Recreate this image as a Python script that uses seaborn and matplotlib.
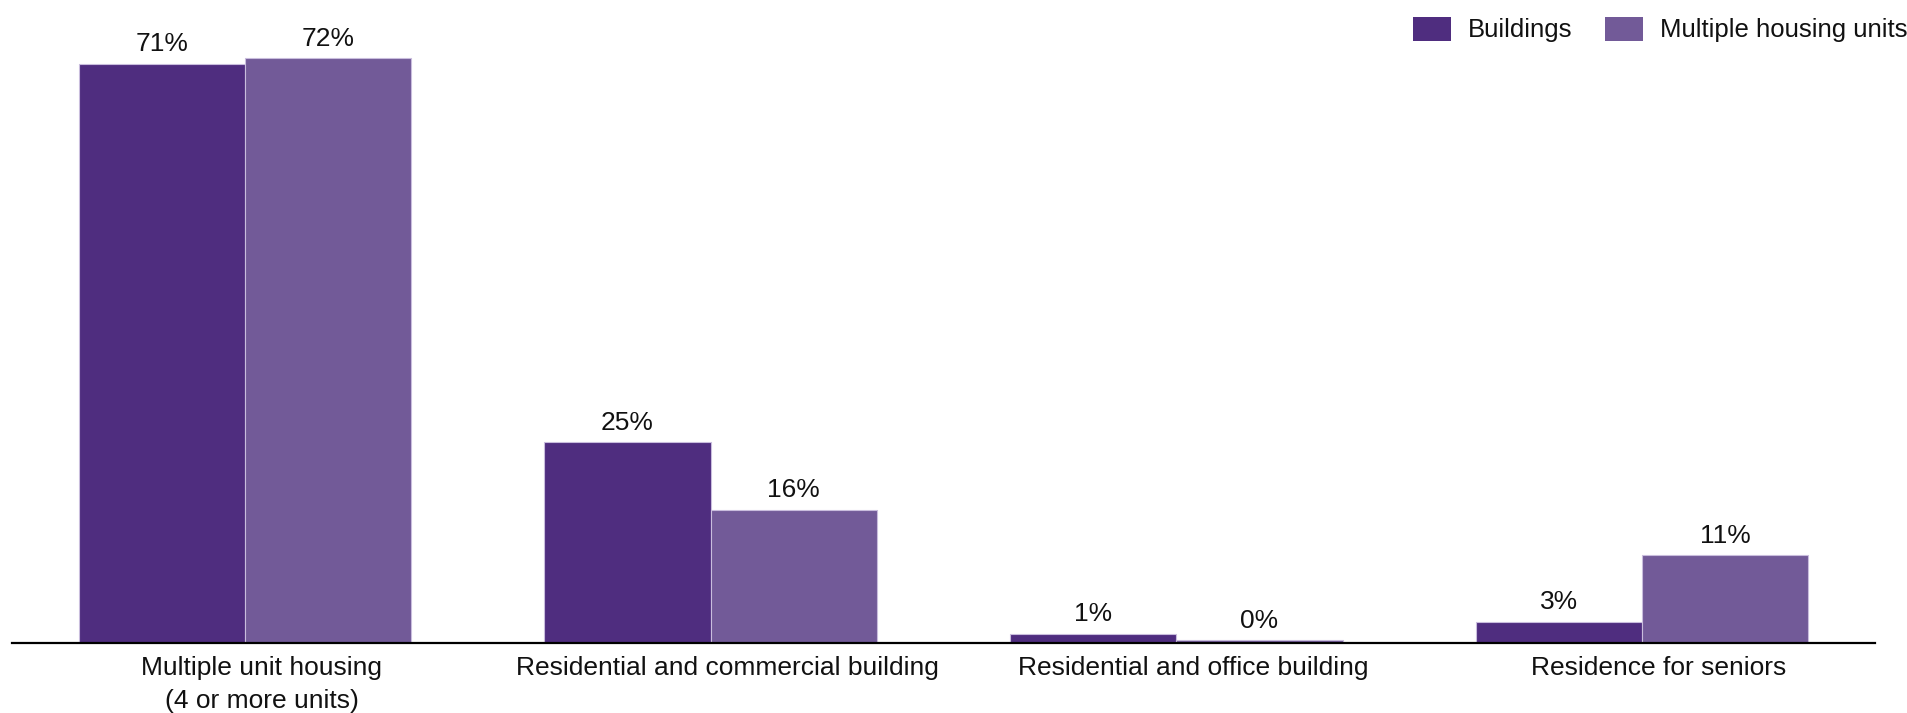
import matplotlib
matplotlib.use("Agg")
import matplotlib.pyplot as plt
import matplotlib.transforms as mtransforms
import seaborn as sns
import pandas as pd
from matplotlib.patches import Patch

# Share of buildings and of housing units by building type (%)
categories = [
    "Multiple unit housing\n(4 or more units)",
    "Residential and commercial building",
    "Residential and office building",
    "Residence for seniors",
]
series_names = ["Buildings", "Multiple housing units"]
buildings = [71.3, 24.7, 1.1, 2.6]
housing_units = [72.0, 16.4, 0.35, 10.8]
colors = ["#4F2D7F", "#725A98"]

df = pd.DataFrame({
    "category": categories * 2,
    "value": buildings + housing_units,
    "series": [series_names[0]] * len(categories) + [series_names[1]] * len(categories),
})

sns.set_theme(style="white")
plt.rcParams["font.family"] = ["Liberation Sans", "DejaVu Sans"]

fig = plt.figure(figsize=(19.08, 7.13), dpi=100)
ax = fig.add_axes([0.0063, 0.0982, 0.9764, 0.9018])

sns.barplot(
    data=df, x="category", y="value", hue="series",
    hue_order=series_names, order=categories,
    palette=colors, width=0.714, gap=0, dodge=True,
    edgecolor="#c9bddd", linewidth=0.8, saturation=1,
    errorbar=None, legend=False, ax=ax,
)

for cont in ax.containers:
    ax.bar_label(cont, labels=[f"{round(v):.0f}%" for v in cont.datavalues],
                 padding=5.5, fontsize=19, color="#111111")

ax.set_xlim(-0.5, 3.5)
ax.set_ylim(0, 79.2)
ax.set_xlabel("")
ax.set_ylabel("")
ax.set_yticks([])
for side in ["left", "right", "top"]:
    ax.spines[side].set_visible(False)
ax.spines["bottom"].set_color("black")
ax.spines["bottom"].set_linewidth(1.6)
ax.tick_params(axis="x", length=0, pad=9.5, labelsize=19, labelcolor="#111111")

# category labels sit slightly right of the group centres
shift = mtransforms.ScaledTranslation(0.17, 0, fig.dpi_scale_trans)
for lbl in ax.get_xticklabels():
    lbl.set_linespacing(1.45)
    lbl.set_transform(lbl.get_transform() + shift)

handles = [Patch(facecolor=c, edgecolor="none") for c in colors]
fig.legend(
    handles, series_names, loc="upper right",
    bbox_to_anchor=(0.9995, 0.9765), ncol=2, frameon=False, fontsize=18.5,
    handlelength=1.48, handleheight=1.05, handletextpad=0.65,
    columnspacing=1.25, borderaxespad=0, borderpad=0,
    labelcolor="#111111",
)

fig.savefig("out.png", dpi=100, facecolor="white")
